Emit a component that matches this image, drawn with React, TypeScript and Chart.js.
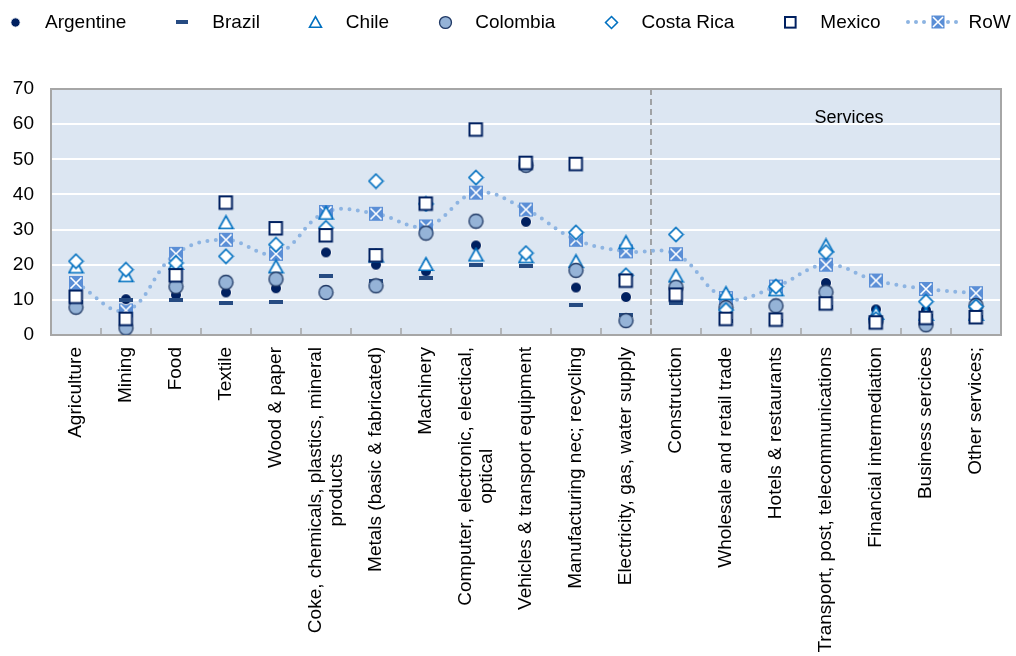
import React, { useEffect, useRef, useMemo } from "react";
import { Chart, registerables } from "chart.js";

Chart.register(...registerables);

const categories: (string | string[])[] = [
  "Agriculture",
  "Mining",
  "Food",
  "Textile",
  "Wood & paper",
  ["Coke, chemicals, plastics, mineral", "products"],
  "Metals (basic & fabricated)",
  "Machinery",
  ["Computer, electronic, electical,", "optical"],
  "Vehicles & transport equipment",
  "Manufacturing nec; recycling",
  "Electricity, gas, water supply",
  "Construction",
  "Wholesale and retail trade",
  "Hotels & restaurants",
  "Transport, post, telecommunications",
  "Financial intermediation",
  "Business sercices",
  "Other services;",
];

const yTicks = [0, 10, 20, 30, 40, 50, 60, 70];

const argentine = [9, 10.2, 11.4, 12.1, 13.3, 23.5, 20, 18.1, 25.5, 32.2, 13.5, 10.8, 12, 6, 5, 14.8, 7.3, 7.1, 6];
const brazil = [9.5, 10, 10, 9, 9.5, 16.7, 15.4, 16.2, 20, 19.7, 8.6, 5.7, 9, 4, 4, 8, 4, 5.5, 5];
const chile = [19.5, 17, 20.5, 32.1, 19.5, 34.8, 22.6, 20.2, 22.9, 22.4, 21, 26.4, 16.9, 11.9, 13, 25.5, 6.3, 6, 6];
const colombia = [7.9, 2, 13.8, 15, 15.9, 12.1, 14, 29, 32.4, 48.3, 18.4, 4.1, 13.6, 7.8, 8.3, 12.2, 4, 2.9, 8.4];
const costaRica = [21, 18.6, 20.5, 22.4, 25.7, 30.5, 43.8, 37.3, 44.8, 23.3, 29.2, 17, 28.6, 7.1, 13.8, 23.6, 4.5, 9.5, 8.1];
const mexico = [10.8, 4.5, 16.9, 37.6, 30.3, 28.3, 22.6, 37.3, 58.4, 48.9, 48.6, 15.4, 11.4, 4.5, 4.3, 8.9, 3.5, 4.8, 5];
const row = [14.8, 7, 23.1, 27.1, 23.1, 35, 34.5, 30.9, 40.5, 35.7, 27.1, 23.8, 23, 10.5, 13.8, 20, 15.5, 13.1, 11.9];

const seriesNames = ["Argentine", "Brazil", "Chile", "Colombia", "Costa Rica", "Mexico", "RoW"];
const seriesValues = [argentine, brazil, chile, colombia, costaRica, mexico, row];

const servicesLabel = "Services";
const FONT = '"Liberation Sans", Arial, sans-serif';

type Kind = "argentine" | "brazil" | "chile" | "colombia" | "costa" | "mexico" | "row" | "rowLegend";
const kinds: Kind[] = ["argentine", "brazil", "chile", "colombia", "costa", "mexico", "row"];

function makeMarker(kind: Kind, s = 1): HTMLCanvasElement {
  const c = document.createElement("canvas");
  const set = (w: number, h: number) => {
    c.width = Math.ceil(w);
    c.height = Math.ceil(h);
  };
  let ctx: CanvasRenderingContext2D;
  const drawRow = (cx: number, cy: number, side: number) => {
    ctx.fillStyle = "#5A8ED6";
    ctx.fillRect(cx - side / 2, cy - side / 2, side, side);
    ctx.strokeStyle = "#ffffff";
    ctx.lineWidth = 1.6;
    const h = side / 2 - 1.5;
    ctx.beginPath();
    ctx.moveTo(cx - h, cy - h);
    ctx.lineTo(cx + h, cy + h);
    ctx.moveTo(cx + h, cy - h);
    ctx.lineTo(cx - h, cy + h);
    ctx.stroke();
  };
  switch (kind) {
    case "argentine": {
      const r = 5.5 * s;
      set(2 * r + 3, 2 * r + 3);
      ctx = c.getContext("2d")!;
      ctx.beginPath();
      ctx.arc(c.width / 2, c.height / 2, r, 0, Math.PI * 2);
      ctx.fillStyle = "#002060";
      ctx.fill();
      ctx.strokeStyle = "#ffffff";
      ctx.lineWidth = 1;
      ctx.stroke();
      break;
    }
    case "brazil": {
      set(14 * s, 4 * s);
      ctx = c.getContext("2d")!;
      ctx.fillStyle = "#264B82";
      ctx.fillRect(0, 0, c.width, c.height);
      break;
    }
    case "chile": {
      const w = 14 * s;
      const h = 12.5 * s;
      set(w + 3, h + 3);
      ctx = c.getContext("2d")!;
      const cx = c.width / 2;
      const top = (c.height - h) / 2;
      ctx.beginPath();
      ctx.moveTo(cx, top);
      ctx.lineTo(cx + w / 2, top + h);
      ctx.lineTo(cx - w / 2, top + h);
      ctx.closePath();
      ctx.fillStyle = "#ffffff";
      ctx.fill();
      ctx.strokeStyle = "#0070C0";
      ctx.lineWidth = 1.6;
      ctx.lineJoin = "miter";
      ctx.stroke();
      break;
    }
    case "colombia": {
      const r = 7 * s;
      set(2 * r + 3, 2 * r + 3);
      ctx = c.getContext("2d")!;
      ctx.beginPath();
      ctx.arc(c.width / 2, c.height / 2, r, 0, Math.PI * 2);
      ctx.fillStyle = "#95B3D7";
      ctx.fill();
      ctx.strokeStyle = "#1F3864";
      ctx.lineWidth = 1.3;
      ctx.stroke();
      break;
    }
    case "costa": {
      const r = 7 * s;
      set(2 * r + 3, 2 * r + 3);
      ctx = c.getContext("2d")!;
      const cx = c.width / 2;
      const cy = c.height / 2;
      ctx.beginPath();
      ctx.moveTo(cx, cy - r);
      ctx.lineTo(cx + r, cy);
      ctx.lineTo(cx, cy + r);
      ctx.lineTo(cx - r, cy);
      ctx.closePath();
      ctx.fillStyle = "#ffffff";
      ctx.fill();
      ctx.strokeStyle = "#0070C0";
      ctx.lineWidth = 1.6;
      ctx.stroke();
      break;
    }
    case "mexico": {
      const side = 12.5 * s;
      set(side + 4, side + 4);
      ctx = c.getContext("2d")!;
      ctx.fillStyle = "#ffffff";
      ctx.fillRect(2, 2, side, side);
      ctx.strokeStyle = "#002060";
      ctx.lineWidth = 2;
      ctx.strokeRect(2, 2, side, side);
      break;
    }
    case "row": {
      const side = 14 * s;
      set(side + 2, side + 2);
      ctx = c.getContext("2d")!;
      drawRow(c.width / 2, c.height / 2, side);
      break;
    }
    case "rowLegend": {
      set(62, 18);
      ctx = c.getContext("2d")!;
      ctx.fillStyle = "#8DB4E2";
      for (let x = 4; x <= 58; x += 8) {
        if (Math.abs(x - 31) < 9) continue;
        ctx.beginPath();
        ctx.arc(x, 9, 2, 0, Math.PI * 2);
        ctx.fill();
      }
      drawRow(34, 9, 13);
      break;
    }
  }
  return c;
}

export default function App() {
  const canvasRef = useRef<HTMLCanvasElement | null>(null);

  const legendIcons = useMemo(() => {
    return kinds.map((k) =>
      k === "row" ? makeMarker("rowLegend").toDataURL() : makeMarker(k, 0.85).toDataURL()
    );
  }, []);

  useEffect(() => {
    document.body.style.margin = "0";
    const canvas = canvasRef.current!;
    const markers = kinds.map((k) => makeMarker(k));
    const drawOrder = [5, 4, 3, 2, 1, 0, 6];

    const datasets: any[] = seriesNames.map((name, i) => {
      const isRow = i === 6;
      return {
        label: name,
        data: seriesValues[i],
        pointStyle: markers[i],
        pointRadius: 7,
        pointHoverRadius: 7,
        showLine: isRow,
        borderColor: isRow ? "#8DB4E2" : "transparent",
        backgroundColor: "transparent",
        borderWidth: isRow ? 4 : 0,
        borderDash: isRow ? [0, 8.5] : [],
        borderCapStyle: "round",
        tension: 0.4,
        fill: false,
        order: drawOrder[i],
      };
    });

    const plotPlugin = {
      id: "plotDecor",
      beforeDraw(chart: any) {
        const { ctx, chartArea: a } = chart;
        ctx.save();
        ctx.fillStyle = "#DCE6F2";
        ctx.fillRect(a.left, a.top, a.right - a.left, a.bottom - a.top);
        ctx.restore();
      },
      beforeDatasetsDraw(chart: any) {
        const { ctx, chartArea: a } = chart;
        const xs = chart.scales.x;
        const ys = chart.scales.y;
        ctx.save();
        // divider between industry and services
        const xDiv = (xs.getPixelForValue(11) + xs.getPixelForValue(12)) / 2;
        ctx.strokeStyle = "#8C8C8C";
        ctx.lineWidth = 1.5;
        ctx.setLineDash([6, 4]);
        ctx.beginPath();
        ctx.moveTo(xDiv, a.top);
        ctx.lineTo(xDiv, a.bottom);
        ctx.stroke();
        ctx.setLineDash([]);
        // inner tick marks at category boundaries
        ctx.strokeStyle = "#A6A6A6";
        ctx.lineWidth = 1.5;
        const half = (xs.getPixelForValue(1) - xs.getPixelForValue(0)) / 2;
        for (let i = 1; i < categories.length; i++) {
          const x = xs.getPixelForValue(i) - half;
          ctx.beginPath();
          ctx.moveTo(x, a.bottom);
          ctx.lineTo(x, a.bottom - 7);
          ctx.stroke();
        }
        // frame
        ctx.strokeStyle = "#A6A6A6";
        ctx.lineWidth = 2;
        ctx.strokeRect(a.left, a.top, a.right - a.left, a.bottom - a.top);
        // services label
        ctx.fillStyle = "#000000";
        ctx.font = `18px ${FONT}`;
        ctx.textAlign = "center";
        ctx.textBaseline = "middle";
        const sx = (xs.getPixelForValue(15) + xs.getPixelForValue(16)) / 2 - 2;
        ctx.fillText(servicesLabel, sx, ys.getPixelForValue(61.7));
        ctx.restore();
      },
      afterDraw(chart: any) {
        const { ctx, chartArea: a } = chart;
        const xs = chart.scales.x;
        ctx.save();
        ctx.font = `19px ${FONT}`;
        ctx.fillStyle = "#000000";
        ctx.textAlign = "right";
        ctx.textBaseline = "middle";
        const lineH = 21;
        categories.forEach((lab, i) => {
          const lines = Array.isArray(lab) ? lab : [lab];
          const widths = lines.map((l) => ctx.measureText(l).width);
          const W = Math.max(...widths);
          const x0 = xs.getPixelForValue(i);
          const top = a.bottom + 12;
          lines.forEach((l, j) => {
            const cx = x0 + (j - (lines.length - 1) / 2) * lineH;
            ctx.save();
            ctx.translate(cx, top + (W - widths[j]) / 2);
            ctx.rotate(-Math.PI / 2);
            ctx.fillText(l, 0, 0);
            ctx.restore();
          });
        });
        ctx.restore();
      },
    };

    const chart = new Chart(canvas, {
      type: "line",
      data: {
        labels: categories.map((c) => (Array.isArray(c) ? c.join(" ") : c)),
        datasets,
      },
      options: {
        animation: false,
        responsive: false,
        maintainAspectRatio: false,
        layout: { padding: { top: 89, left: 13, right: 15, bottom: 0 } },
        plugins: {
          legend: { display: false },
          tooltip: { enabled: false },
        },
        scales: {
          x: {
            type: "category",
            offset: true,
            grid: { display: false, drawTicks: false },
            border: { display: false },
            ticks: { display: false },
            afterFit: (scale: any) => {
              scale.height = 321;
            },
          },
          y: {
            min: 0,
            max: 70,
            afterBuildTicks: (scale: any) => {
              scale.ticks = yTicks.map((v) => ({ value: v }));
            },
            afterFit: (scale: any) => {
              scale.width = 38;
            },
            grid: { color: "#FFFFFF", lineWidth: 2, drawTicks: false },
            border: { display: false },
            ticks: {
              padding: 17,
              color: "#000000",
              font: { family: FONT, size: 19 },
            },
          },
        },
      },
      plugins: [plotPlugin],
    } as any);

    return () => chart.destroy();
  }, []);

  return (
    <div style={{ position: "relative", width: 1016, height: 656, background: "#fff", overflow: "hidden" }}>
      <canvas ref={canvasRef} width={1016} height={656} style={{ position: "absolute", left: 0, top: 0 }} />
      <div
        style={{
          position: "absolute",
          left: 0,
          top: 10,
          height: 24,
          display: "flex",
          alignItems: "center",
          whiteSpace: "nowrap",
          font: `19px ${FONT}`,
          color: "#000",
        }}
      >
        {seriesNames.map((name, i) => {
          const isRow = i === 6;
          return (
            <div
              key={name}
              style={{ display: "flex", alignItems: "center", marginLeft: i === 0 ? 0 : isRow ? 23 : 41 }}
            >
              <div
                style={{
                  width: isRow ? 62 : 30,
                  display: "flex",
                  justifyContent: "center",
                  alignItems: "center",
                  height: 24,
                }}
              >
                <img src={legendIcons[i]} alt="" style={{ display: "block" }} />
              </div>
              <span style={{ marginLeft: isRow ? 3 : 15, lineHeight: "24px" }}>{name}</span>
            </div>
          );
        })}
      </div>
    </div>
  );
}
